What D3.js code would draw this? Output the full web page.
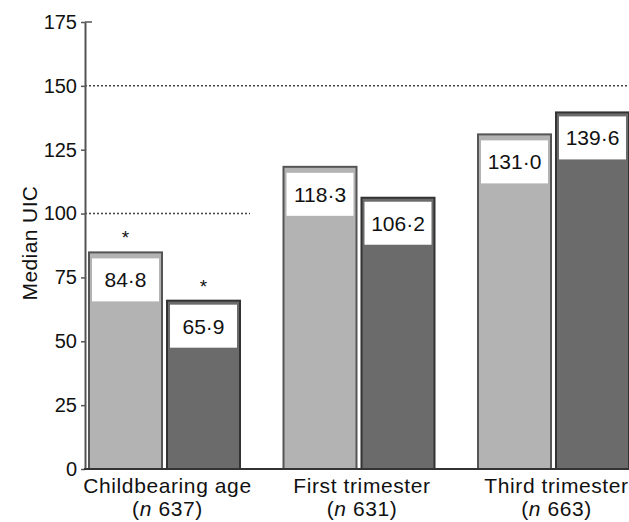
<!DOCTYPE html>
<html>
<head>
<meta charset="utf-8">
<script src="https://cdn.jsdelivr.net/npm/d3@7"></script>
<style>
  body { margin: 0; background: #fff; }
  text { font-family: "Liberation Sans", Arial, sans-serif; fill: #111; }
</style>
</head>
<body>
<script>
// chart data
var groups = ["Childbearing age", "First trimester", "Third trimester"];
var groupN = ["637", "631", "663"];
var series = ["light", "dark"];
var lightValues = [84.8, 118.3, 131.0];
var darkValues = [65.9, 106.2, 139.6];
var starred = [[true, true], [false, false], [false, false]]; // asterisks
var yTicks = [0, 25, 50, 75, 100, 125, 150, 175];
var refValues = [150, 100];

var w = 629, h = 522;
var svg = d3.select("body").append("svg").attr("width", w).attr("height", h);

// scales
var y = d3.scaleLinear().domain([0, 175]).range([469, 22]);
var x0 = d3.scaleBand().domain(groups).range([89, 629]).paddingInner(0.2237).paddingOuter(0);
var x1 = d3.scaleBand().domain(series).range([0, x0.bandwidth()]).paddingInner(0.064);

var fill = { light: "#b3b3b3", dark: "#6b6b6b" };
var stroke = { light: "#555", dark: "#333" };

// bars data
var bars = [];
groups.forEach(function (g, i) {
  bars.push({ g: g, s: "light", v: lightValues[i], star: starred[i][0] });
  bars.push({ g: g, s: "dark", v: darkValues[i], star: starred[i][1] });
});

// reference dotted lines
svg.selectAll("line.ref").data(refValues).enter().append("line")
  .attr("class", "ref")
  .attr("x1", 85)
  .attr("x2", function (d) {
    // 100 applies to childbearing age only
    return d === 100 ? x0(groups[0]) + x0.bandwidth() + 10 : w;
  })
  .attr("y1", function (d) { return y(d); })
  .attr("y2", function (d) { return y(d); })
  .attr("stroke", "#444")
  .attr("stroke-width", 1.5)
  .attr("stroke-dasharray", "2,2");

var bar = svg.selectAll("g.bar").data(bars).enter().append("g").attr("class", "bar");

bar.append("rect")
  .attr("x", function (d) { return x0(d.g) + x1(d.s); })
  .attr("y", function (d) { return y(d.v); })
  .attr("width", x1.bandwidth())
  .attr("height", function (d) { return y(0) - y(d.v); })
  .attr("fill", function (d) { return fill[d.s]; })
  .attr("stroke", function (d) { return stroke[d.s]; })
  .attr("stroke-width", 2);

// white label boxes
bar.append("rect")
  .attr("x", function (d) { return x0(d.g) + x1(d.s) + 3; })
  .attr("y", function (d) { return y(d.v) + (d.s === "light" ? 6 : 4); })
  .attr("width", x1.bandwidth() - 6)
  .attr("height", 43)
  .attr("fill", "#fff");

bar.append("text")
  .attr("x", function (d) { return x0(d.g) + x1(d.s) + x1.bandwidth() / 2; })
  .attr("y", function (d) { return y(d.v) + (d.s === "light" ? 6 : 4) + 21.5; })
  .attr("text-anchor", "middle")
  .attr("dominant-baseline", "central")
  .style("font-size", "21px")
  .text(function (d) { return d.v.toFixed(1).replace(".", "\u00b7"); });

bar.filter(function (d) { return d.star; }).append("text")
  .attr("x", function (d) { return x0(d.g) + x1(d.s) + x1.bandwidth() / 2; })
  .attr("y", function (d) { return y(d.v) - 8; })
  .attr("text-anchor", "middle")
  .style("font-size", "19px")
  .text("*");

// y axis
var yAxis = d3.axisLeft(y).tickValues(yTicks).tickSize(4).tickSizeOuter(0).tickPadding(4);
var ga = svg.append("g").attr("transform", "translate(85,0)").call(yAxis);
ga.select(".domain").attr("stroke", "#555").attr("stroke-width", 2);
ga.selectAll(".tick line").attr("stroke", "#555").attr("stroke-width", 1.5);
ga.selectAll(".tick text").style("font-size", "20px").attr("fill", "#111")
  .style("font-family", "'Liberation Sans', Arial, sans-serif");
// small inward cap at the top
svg.append("line").attr("x1", 85).attr("x2", 92).attr("y1", y(175)).attr("y2", y(175))
  .attr("stroke", "#555").attr("stroke-width", 1.5);

// baseline
svg.append("line").attr("x1", 84).attr("x2", w).attr("y1", y(0)).attr("y2", y(0))
  .attr("stroke", "#333").attr("stroke-width", 2);

// x labels
var xl = svg.selectAll("text.xl").data(groups).enter().append("text")
  .attr("class", "xl")
  .attr("text-anchor", "middle")
  .style("font-size", "21px")
  .style("letter-spacing", "0.6px");
xl.append("tspan")
  .attr("x", function (d) { return x0(d) + x0.bandwidth() / 2 + 3; })
  .attr("y", 493)
  .text(function (d) { return d; });
var t2 = xl.append("tspan")
  .attr("x", function (d) { return x0(d) + x0.bandwidth() / 2 + 3; })
  .attr("y", 516);
t2.append("tspan").text("(");
t2.append("tspan").style("font-style", "italic").text("n");
t2.append("tspan").text(function (d, i) { return " " + groupN[i] + ")"; });

// y label
svg.append("text")
  .attr("transform", "translate(37,243) rotate(-90)")
  .attr("text-anchor", "middle")
  .style("font-size", "21px")
  .style("letter-spacing", "0.4px")
  .text("Median UIC");
</script>
</body>
</html>
